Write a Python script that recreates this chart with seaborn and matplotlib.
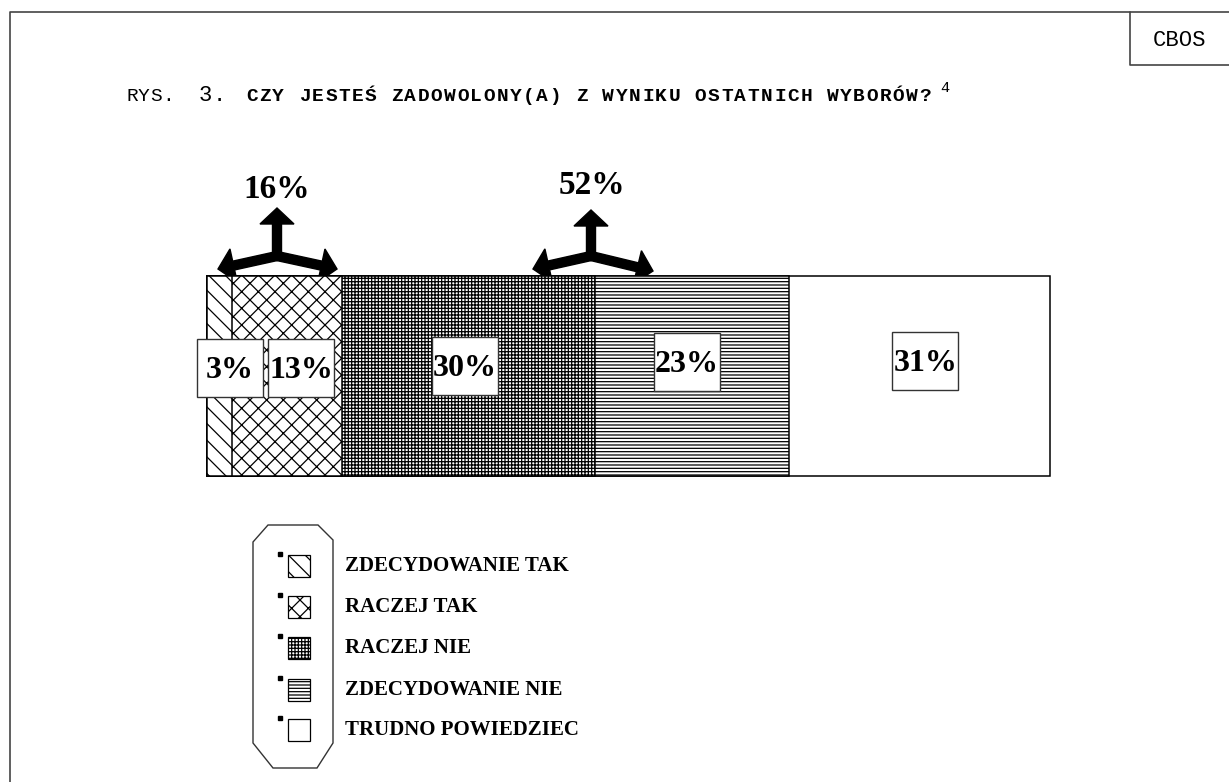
import numpy as np
import matplotlib.pyplot as plt
import matplotlib.patches as mpatches
import seaborn as sns

# Data
categories = ['ZDECYDOWANIE TAK', 'RACZEJ TAK', 'RACZEJ NIE', 'ZDECYDOWANIE NIE', 'TRUDNO POWIEDZIEC']
values = [3, 13, 30, 23, 31]
group_totals = ['16%', '52%']   # as printed in the source (rounded separately)
title_prefix = 'RYS.'
title_number = '3.'
title_text = 'CZY JESTEŚ ZADOWOLONY(A) Z WYNIKU OSTATNICH WYBORÓW?'
footnote = '4'
source = 'CBOS'

# Styles
hatches = ['\\\\', 'xx', '+++++', '-----', '']
label_shift = [1.2, 1.7, -0.4, -0.6, 0.7]
label_y = [-0.04, -0.04, -0.05, -0.07, -0.075]
serif = 'Liberation Serif'
mono = 'Liberation Mono'

sns.set_theme(style='white')
plt.rcParams['hatch.linewidth'] = 0.9
plt.rcParams['text.color'] = 'black'

W, H = 1229, 782
fig = plt.figure(figsize=(W / 100, H / 100), dpi=100)

# pixel overlay for frame, title, arrows and legend
pax = fig.add_axes([0, 0, 1, 1])
pax.set_xlim(0, W)
pax.set_ylim(H, 0)
pax.axis('off')

# page frame and CBOS box
pax.plot([10, 10, W], [H, 12, 12], color='#444444', lw=1.2)
pax.plot([1130, 1130, W], [12, 65, 65], color='#444444', lw=1.2)
pax.text(1180, 40, source, family=mono, fontsize=16, ha='center', va='center')

# title, drawn char by char to mimic the wide typewriter spacing
for i, ch in enumerate(title_prefix):
    pax.text(126 + i * 12.0, 101, ch, family=mono, fontsize=14, va='baseline')
for i, ch in enumerate(title_number):
    pax.text(199 + i * 14, 101, ch, family=mono, fontsize=16, va='baseline')
for i, ch in enumerate(title_text):
    pax.text(246 + i * 13.2, 101, ch, family=mono, fontsize=14, fontweight='bold', va='baseline')
pax.text(940, 92, footnote, family=mono, fontsize=11, va='baseline')

# stacked bar
ax = fig.add_axes([207 / W, 1 - 476 / H, 843 / W, 200 / H])
cum = np.cumsum(values)
for i in reversed(range(len(values))):
    sns.barplot(x=[cum[i]], y=['all'], orient='h', color='white', saturation=1,
                edgecolor='black', linewidth=1.1, width=1, ax=ax)
    ax.patches[-1].set_hatch(hatches[i])
    ax.patches[-1].set_clip_on(False)
ax.set_xlim(0, 100)
ax.set_ylim(0.5, -0.5)
ax.axis('off')

# boxed value labels
bw, bh = 66 / 843 * 100, 58 / 200
for i, v in enumerate(values):
    xc = cum[i] - v / 2 + label_shift[i]
    yc = label_y[i]
    ax.add_patch(mpatches.Rectangle((xc - bw / 2, yc - bh / 2), bw, bh, fc='white',
                                    ec='#333333', lw=1, zorder=4, clip_on=False))
    ax.text(xc, yc + 0.01, f'{v}%', family=serif, fontsize=23, fontweight='bold',
            ha='center', va='center', zorder=5)


# three-pronged arrows above the grouped shares
def tri_arrow(cx, cy, top, left, right):
    kw = dict(width=9, head_width=34, head_length=16, length_includes_head=True,
              fc='black', ec='black')
    pax.add_patch(mpatches.FancyArrow(cx, cy, 0, top - cy, **kw))
    pax.add_patch(mpatches.FancyArrow(cx, cy, left[0] - cx, left[1] - cy, **kw))
    pax.add_patch(mpatches.FancyArrow(cx, cy, right[0] - cx, right[1] - cy, **kw))


tri_arrow(277, 256, 208, (218, 269), (337, 269))
tri_arrow(591, 256, 210, (533, 269), (653, 271))
pax.text(277, 190, group_totals[0], family=serif, fontsize=24,
         fontweight='bold', ha='center', va='center')
pax.text(592, 186, group_totals[1], family=serif, fontsize=24,
         fontweight='bold', ha='center', va='center')

# legend in an octagon
octagon = [(268, 525), (318, 525), (333, 540), (333, 743), (317, 768),
           (273, 768), (253, 743), (253, 542)]
pax.add_patch(mpatches.Polygon(octagon, closed=True, fill=False, ec='#333333', lw=1))
row_y = [566, 607, 648, 690, 730]
for i, name in enumerate(categories):
    y = row_y[i]
    pax.add_patch(mpatches.Rectangle((288, y - 11), 22, 22, fc='white', ec='black',
                                     lw=0.9, hatch=hatches[i]))
    pax.plot(280, y - 12, marker='s', ms=2.2, color='black')
    pax.text(345, y, name, family=serif, fontsize=15, fontweight='bold', va='center')

fig.savefig('out.png', dpi=100)
